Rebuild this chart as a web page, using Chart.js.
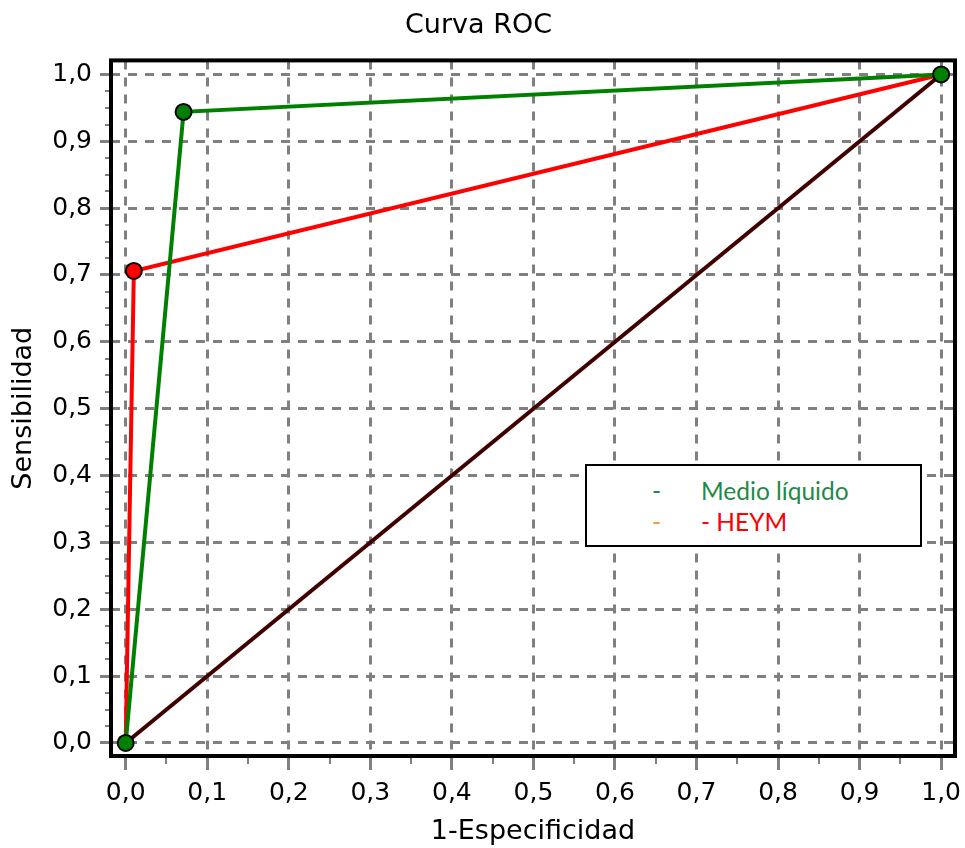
<!DOCTYPE html>
<html>
<head>
<meta charset="utf-8">
<title>Curva ROC</title>
<script src="https://cdn.jsdelivr.net/npm/chart.js@4/dist/chart.umd.min.js"></script>
<style>
  body { margin: 0; background: #fff; }
  #wrap { position: relative; width: 965px; height: 848px; }
  #legendBox {
    position: absolute; left: 585px; top: 464px; width: 333px; height: 79px;
    border: 2px solid #000; background: #fff;
  }
  .leg { position: absolute; font-family: Lato, "Open Sans", sans-serif; font-size: 24.5px; line-height: 24px; white-space: nowrap; }
</style>
</head>
<body>
<div id="wrap">
  <canvas id="roc" width="965" height="848"></canvas>
  <div id="legendBox"></div>
  <span class="leg" style="left:652px;top:479px;color:#1f8a47">-</span>
  <span class="leg" style="left:701px;top:479px;color:#1f8a47">Medio líquido</span>
  <span class="leg" style="left:652px;top:510px;color:#f79646">-</span>
  <span class="leg" style="left:701px;top:510px;color:#ff0000">- HEYM</span>
</div>
<script>
// ROC points
const liquidoX = [0, 0.071, 1];
const liquidoY = [0, 0.944, 1];
const heymX = [0, 0.01, 1];
const heymY = [0, 0.706, 1];
const refX = [0, 1];
const refY = [0, 1];

const tickValues = [0, 0.1, 0.2, 0.3, 0.4, 0.5, 0.6, 0.7, 0.8, 0.9, 1.0];
const tickLabels = ['0,0', '0,1', '0,2', '0,3', '0,4', '0,5', '0,6', '0,7', '0,8', '0,9', '1,0'];

const FONT = 'DejaVu Sans';

const toPoints = (xs, ys) => xs.map((x, i) => ({ x: x, y: ys[i] }));

// minor tick marks: x every 0.05, y every 0.025
const xMinor = [];
for (let i = 1; i < 20; i += 2) xMinor.push(i / 20);
const yMinor = [];
for (let i = 1; i < 40; i++) if (i % 4 !== 0) yMinor.push(i / 40);

const framePlugin = {
    id: 'frame',
    beforeDatasetsDraw(chart) {
        const { ctx, chartArea: a, scales } = chart;
        ctx.save();
        ctx.strokeStyle = '#808080';
        ctx.lineWidth = 2;
        ctx.beginPath();
        xMinor.forEach(v => {
            const px = Math.round(scales.x.getPixelForValue(v));
            ctx.moveTo(px, a.bottom);
            ctx.lineTo(px, a.bottom + 8);
        });
        yMinor.forEach(v => {
            const py = Math.round(scales.y.getPixelForValue(v));
            ctx.moveTo(a.left - 6, py);
            ctx.lineTo(a.left, py);
        });
        ctx.stroke();
        ctx.strokeStyle = '#000';
        ctx.lineWidth = 4;
        ctx.strokeRect(a.left, a.top, a.right - a.left, a.bottom - a.top);
        ctx.restore();
    }
};

const setTicks = scale => {
    scale.ticks = tickValues.map(v => ({ value: v }));
};

const axis = (min, max, tickLength, pad, title, titlePad) => ({
    type: 'linear',
    min: min,
    max: max,
    afterBuildTicks: setTicks,
    ticks: {
        autoSkip: false,
        maxRotation: 0,
        padding: pad,
        color: '#000',
        font: { family: FONT, size: 25 },
        callback: (value, index) => tickLabels[index]
    },
    grid: {
        color: '#808080',
        lineWidth: 3,
        tickLength: tickLength,
        tickColor: '#808080',
        tickBorderDash: [1, 0]
    },
    border: { display: false, dash: [9, 8] },
    title: {
        display: true,
        text: title,
        color: '#000',
        font: { family: FONT, size: 27 },
        padding: titlePad
    }
});

const xAxis = axis(-0.018, 1.017, 14, 8, '1-Especificidad', { top: 0, bottom: 0 });
xAxis.afterFit = scale => {
    scale.height = 92;
    scale.paddingLeft = 0;
    scale.paddingRight = 0;
};
const yAxis = axis(-0.0195, 1.021, 11, 8, 'Sensibilidad', { top: 8, bottom: 0 });
yAxis.afterFit = scale => {
    scale.width = 111;
    scale.paddingTop = 0;
    scale.paddingBottom = 0;
};

new Chart(document.getElementById('roc'), {
    type: 'line',
    data: {
        datasets: [
            {
                label: 'Medio líquido',
                data: toPoints(liquidoX, liquidoY),
                borderColor: '#008000',
                borderWidth: 4,
                pointRadius: 8,
                pointBackgroundColor: '#008000',
                pointBorderColor: '#000',
                pointBorderWidth: 2
            },
            {
                label: 'HEYM',
                data: toPoints(heymX, heymY),
                borderColor: '#ff0000',
                borderWidth: 4,
                pointRadius: [0, 8, 0],
                pointBackgroundColor: '#ff0000',
                pointBorderColor: '#000',
                pointBorderWidth: 2
            },
            {
                label: 'Referencia',
                data: toPoints(refX, refY),
                borderColor: '#400000',
                borderWidth: 4,
                pointRadius: 0
            }
        ]
    },
    options: {
        responsive: false,
        animation: false,
        devicePixelRatio: 1,
        layout: { padding: { left: 0, right: 8, top: 0, bottom: 0 } },
        plugins: {
            legend: { display: false },
            tooltip: { enabled: false },
            title: {
                display: true,
                text: 'Curva ROC',
                color: '#000',
                font: { family: FONT, size: 27, weight: 'normal' },
                padding: { top: 10, bottom: 18 }
            }
        },
        scales: { x: xAxis, y: yAxis }
    },
    plugins: [framePlugin]
});
</script>
</body>
</html>
